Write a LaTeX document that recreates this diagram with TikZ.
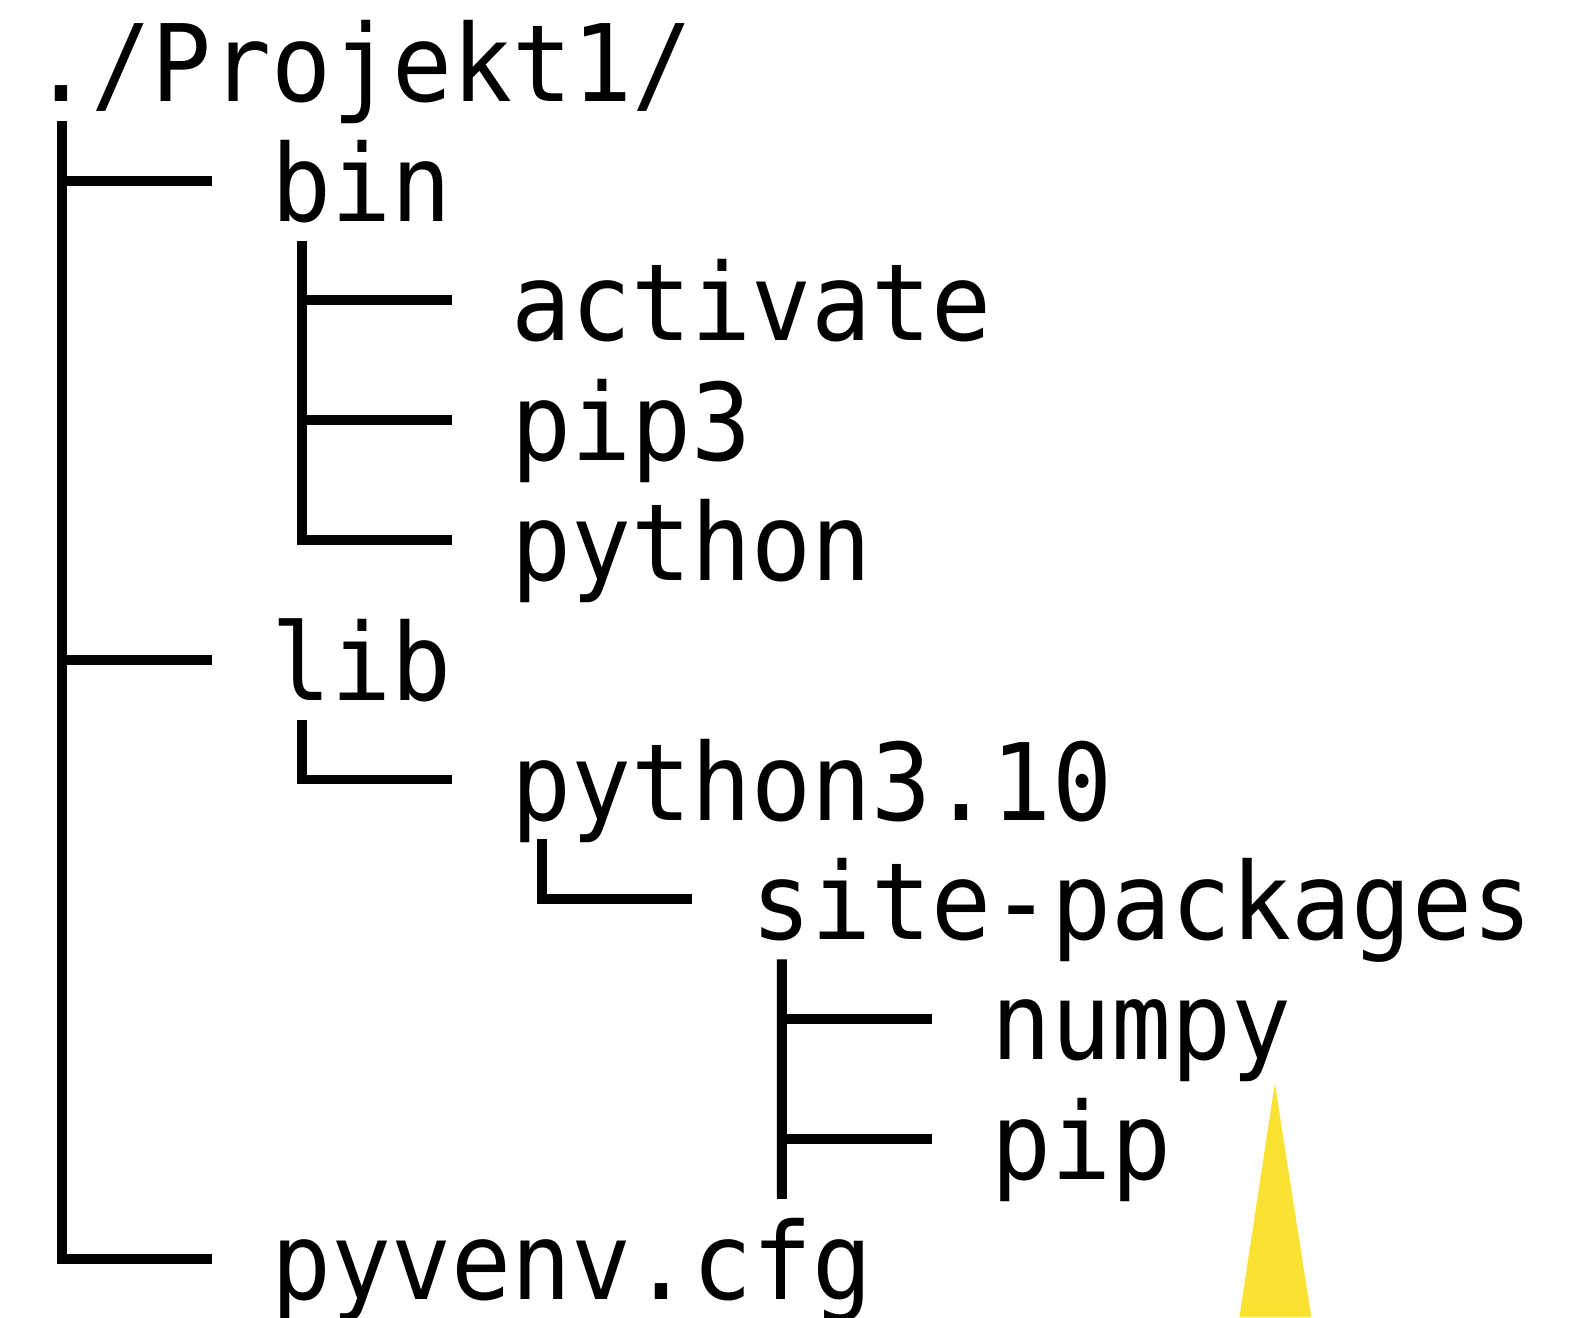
\documentclass[tikz,border=0pt]{standalone}
\usepackage{fontspec}
\newfontfamily\treefont{DejaVu Sans Mono}
\usetikzlibrary{calc}
\definecolor{triyellow}{RGB}{249,226,50}
\newcommand\mtx[1]{\scalebox{0.9325}[1]{#1}}
\begin{document}
\begin{tikzpicture}[x=0.01cm,y=0.01cm,
  item/.style={anchor=base west, inner sep=0pt, outer sep=0pt, font=\treefont\fontsize{30}{30}\selectfont},
  branch/.style={line width=2.8pt, line cap=butt, line join=miter, black}]
\useasboundingbox (0,0) rectangle (1568,-1300);
% nodes
\node[item] (root)   at (31.5,-100)    {\mtx{./Projekt1/}};
\node[item] (bin)    at (268.3,-218.2) {\mtx{bin}};
\node[item] (act)    at (505.1,-336.4) {\mtx{activate}};
\node[item] (pip3)   at (505.1,-454.6) {\mtx{pip3}};
\node[item] (py)     at (505.1,-572.8) {\mtx{python}};
\node[item] (lib)    at (268.3,-691)   {\mtx{lib}};
\node[item] (py310)  at (505.1,-809.2) {\mtx{python3.10}};
\node[item] (site)   at (741.9,-927.4) {\mtx{site-packages}};
\node[item] (numpy)  at (978.7,-1045.6){\mtx{numpy}};
\node[item] (pip)    at (978.7,-1163.8){\mtx{pip}};
\node[item] (pyvenv) at (268.3,-1282)  {\mtx{pyvenv.cfg}};
% trunk tops / bottoms
\coordinate (rootT) at ($(root.base west)+(29.6,-19.2)$);
\coordinate (binT)  at ($(bin.base west)+(29.6,-19.2)$);
\coordinate (libT)  at ($(lib.base west)+(29.6,-19.2)$);
\coordinate (pyT)   at ($(py310.base west)+(29.6,-19.2)$);
\coordinate (siteT) at ($(site.base west)+(29.6,-19.2)$);
\coordinate (siteB) at ($(pip.base west)+(-207.2,-19.2)$);
% root
\draw[branch] (rootT) |- ($(pyvenv.base west)+(-59.2,40)$);
\draw[branch] ($(bin.base west)+(-207.2,40)$) -- ($(bin.base west)+(-59.2,40)$);
\draw[branch] ($(lib.base west)+(-207.2,40)$) -- ($(lib.base west)+(-59.2,40)$);
% bin
\draw[branch] (binT) |- ($(py.base west)+(-59.2,40)$);
\draw[branch] ($(act.base west)+(-207.2,40)$) -- ($(act.base west)+(-59.2,40)$);
\draw[branch] ($(pip3.base west)+(-207.2,40)$) -- ($(pip3.base west)+(-59.2,40)$);
% lib
\draw[branch] (libT) |- ($(py310.base west)+(-59.2,40)$);
% python3.10
\draw[branch] (pyT) |- ($(site.base west)+(-59.2,40)$);
% site-packages
\draw[branch] (siteT) -- (siteB);
\draw[branch] ($(numpy.base west)+(-207.2,40)$) -- ($(numpy.base west)+(-59.2,40)$);
\draw[branch] ($(pip.base west)+(-207.2,40)$) -- ($(pip.base west)+(-59.2,40)$);
% yellow triangle
\fill[triyellow] (1258,-1069) -- (1294,-1300) -- (1223,-1300) -- cycle;
\end{tikzpicture}
\end{document}
